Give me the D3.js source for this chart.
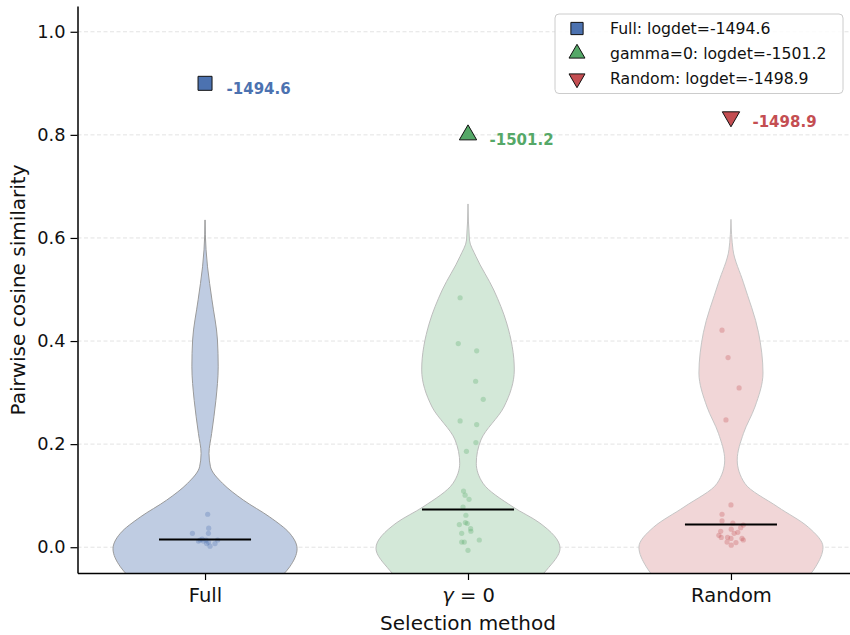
<!DOCTYPE html>
<html>
<head>
  <meta charset="UTF-8">
  <style>
    body { margin: 0; background: #fff; }
    svg { display: block; font-family: "DejaVu Sans", sans-serif; }
  </style>
</head>
<body>
  <script src="https://d3js.org/d3.v7.min.js"></script>
  <script>
    var categories = ["Full", "γ = 0", "Random"];
    var colors = ["#4C72B0", "#55A868", "#C44E52"];
    var fills = ["#bfcce2", "#d3e8d8", "#f1d6d7"];
    var edges = ["#9a9a9a", "#bdbdbd", "#c6c6c6"];
    var yTicks = [0.0, 0.2, 0.4, 0.6, 0.8, 1.0];

    // violin outlines: value, relative half width
    var fullProfileV = [0.635, 0.577, 0.544, 0.480, 0.402, 0.350, 0.285, 0.221, 0.182, 0.156, 0.124, 0.091, 0.059, 0.027, -0.003, -0.038, -0.07];
    var fullProfileW = [0, 0.011, 0.027, 0.075, 0.135, 0.143, 0.118, 0.072, 0.043, 0.059, 0.19, 0.42, 0.70, 0.92, 1.0, 0.92, 0.75];
    var gammaProfileV = [0.666, 0.596, 0.564, 0.499, 0.435, 0.344, 0.272, 0.208, 0.163, 0.124, 0.078, 0.047, -0.002, -0.045, -0.07];
    var gammaProfileW = [0, 0.016, 0.087, 0.28, 0.42, 0.503, 0.39, 0.14, 0.09, 0.163, 0.49, 0.78, 1.0, 0.85, 0.72];
    var randProfileV = [0.636, 0.577, 0.513, 0.416, 0.338, 0.272, 0.221, 0.169, 0.124, 0.078, 0.039, 0.0, -0.038, -0.07];
    var randProfileW = [0, 0.022, 0.136, 0.30, 0.348, 0.26, 0.136, 0.068, 0.15, 0.51, 0.84, 1.0, 0.92, 0.78];

    // strip points: value and horizontal jitter
    var fullPtsV = [0.064, 0.037, 0.027, 0.027, 0.014, 0.012, 0.014, 0.010, 0.007, 0.002, 0.007, 0.014, 0.012, 0.016];
    var fullPtsJ = [0.010, 0.014, 0.013, -0.048, -0.019, -0.006, 0.004, 0.013, 0.006, 0.019, 0.038, 0.048, -0.025, -0.011];
    var gammaPtsV = [0.484, 0.395, 0.381, 0.322, 0.287, 0.245, 0.238, 0.203, 0.186, 0.109, 0.101, 0.093, 0.078, 0.062, 0.048, 0.046, 0.044, 0.036, 0.031, 0.027, 0.014, 0.010, 0.010, -0.006];
    var gammaPtsJ = [-0.030, -0.037, 0.033, 0.029, 0.058, -0.030, 0.033, 0.030, -0.006, -0.017, -0.011, 0.004, -0.019, -0.008, -0.010, -0.003, -0.033, 0.010, 0.011, -0.024, 0.043, -0.024, -0.014, 0.0];
    var randPtsV = [0.421, 0.368, 0.309, 0.247, 0.082, 0.064, 0.051, 0.047, 0.043, 0.038, 0.035, 0.031, 0.029, 0.027, 0.023, 0.019, 0.019, 0.017, 0.017, 0.014, 0.010, 0.009, 0.004];
    var randPtsJ = [-0.034, -0.011, 0.031, -0.019, 0.0, -0.034, -0.034, 0.007, 0.047, 0.037, 0.001, -0.039, 0.026, 0.012, -0.046, -0.037, -0.013, 0.0, 0.042, 0.047, -0.015, 0.019, 0.001];

    var medians = [0.015, 0.073, 0.044];
    var markerVals = [0.9, 0.8, 0.835];
    var logdets = ["-1494.6", "-1501.2", "-1498.9"];
    var legendLabels = ["Full: logdet=-1494.6", "gamma=0: logdet=-1501.2", "Random: logdet=-1498.9"];
    var markerShapes = [d3.symbolSquare, d3.symbolTriangle, d3.symbolTriangle];

    var profiles = [
      d3.zip(fullProfileV, fullProfileW),
      d3.zip(gammaProfileV, gammaProfileW),
      d3.zip(randProfileV, randProfileW)
    ];
    var points = [
      d3.zip(fullPtsV, fullPtsJ),
      d3.zip(gammaPtsV, gammaPtsJ),
      d3.zip(randPtsV, randPtsJ)
    ];

    var W = 850, H = 635;
    var plotL = 77.5, plotR = 858.5, plotT = 6, plotB = 573;

    var x = d3.scaleLinear().domain([-0.485, 2.485]).range([plotL, plotR]);
    var y = d3.scaleLinear().domain([-0.05, 1.05]).range([plotB, plotT]);
    var halfW = x(0.35) - x(0);

    var svg = d3.select("body").append("svg").attr("width", W).attr("height", H);

    svg.append("clipPath").attr("id", "plot")
      .append("rect").attr("x", plotL).attr("y", plotT)
      .attr("width", plotR - plotL).attr("height", plotB - plotT);

    // grid
    svg.append("g").selectAll("line").data(yTicks).join("line")
      .attr("x1", plotL).attr("x2", plotR)
      .attr("y1", function(d) { return y(d); }).attr("y2", function(d) { return y(d); })
      .attr("stroke", "#dcdcdc").attr("stroke-width", 0.8)
      .attr("stroke-dasharray", "4,2.5");

    var plot = svg.append("g").attr("clip-path", "url(#plot)");

    profiles.forEach(function(prof, i) {
      var area = d3.area()
        .curve(d3.curveMonotoneY)
        .y(function(d) { return y(d[0]); })
        .x0(function(d) { return x(i) - d[1] * halfW; })
        .x1(function(d) { return x(i) + d[1] * halfW; });
      plot.append("path").datum(prof)
        .attr("d", area)
        .attr("fill", fills[i])
        .attr("stroke", edges[i])
        .attr("stroke-width", 1);
    });

    points.forEach(function(pts, i) {
      plot.append("g").selectAll("circle").data(pts).join("circle")
        .attr("cx", function(d) { return x(i + d[1]); })
        .attr("cy", function(d) { return y(d[0]); })
        .attr("r", 2.6)
        .attr("fill", colors[i])
        .attr("fill-opacity", 0.3);
    });

    // medians
    plot.append("g").selectAll("line").data(medians).join("line")
      .attr("x1", function(d, i) { return x(i - 0.175); })
      .attr("x2", function(d, i) { return x(i + 0.175); })
      .attr("y1", function(d) { return y(d); })
      .attr("y2", function(d) { return y(d); })
      .attr("stroke", "#000").attr("stroke-width", 2);

    // logdet markers
    markerVals.forEach(function(v, i) {
      var sz = i === 0 ? 196 : 130;
      var rot = i === 2 ? 180 : 0;
      svg.append("path")
        .attr("d", d3.symbol().type(markerShapes[i]).size(sz))
        .attr("transform", "translate(" + x(i) + "," + y(v) + ") rotate(" + rot + ")")
        .attr("fill", colors[i]).attr("stroke", "#111").attr("stroke-width", 1);
      svg.append("text")
        .attr("x", x(i) + 21.5).attr("y", y(v) + 5)
        .attr("dy", "0.35em")
        .attr("font-size", "15px").attr("font-weight", "bold")
        .attr("fill", colors[i])
        .text(logdets[i]);
    });

    // axes
    var yAxis = svg.append("g").attr("transform", "translate(" + plotL + ",0)")
      .call(d3.axisLeft(y).tickValues(yTicks).tickFormat(d3.format(".1f")).tickSize(7).tickSizeOuter(0).tickPadding(5));
    yAxis.selectAll("text").attr("font-size", "17.8px").attr("font-family", "DejaVu Sans").attr("fill", "#111");

    var xAxis = svg.append("g").attr("transform", "translate(0," + plotB + ")")
      .call(d3.axisBottom(x).tickValues([0, 1, 2]).tickFormat(function(d) { return categories[d]; }).tickSize(7).tickSizeOuter(0).tickPadding(8));
    xAxis.selectAll("text").attr("font-size", "19.5px").attr("font-family", "DejaVu Sans").attr("fill", "#111");
    xAxis.selectAll(".tick text").filter(function(d) { return d === 1; })
      .text(null)
      .call(function(t) {
        t.append("tspan").attr("font-style", "italic").text("γ");
        t.append("tspan").text(" = 0");
      });

    svg.selectAll(".domain").attr("stroke", "#000").attr("stroke-width", 1.5);
    svg.selectAll(".tick line").attr("stroke", "#000").attr("stroke-width", 1.2);

    svg.append("text")
      .attr("transform", "translate(25,290) rotate(-90)")
      .attr("text-anchor", "middle")
      .attr("font-size", "20px").attr("fill", "#111")
      .text("Pairwise cosine similarity");

    svg.append("text")
      .attr("x", x(1)).attr("y", 630)
      .attr("text-anchor", "middle")
      .attr("font-size", "20px").attr("fill", "#111")
      .text("Selection method");

    // legend
    var lg = svg.append("g");
    lg.append("rect")
      .attr("x", 555).attr("y", 14).attr("width", 288).attr("height", 79.5)
      .attr("rx", 4)
      .attr("fill", "#fff").attr("fill-opacity", 0.85)
      .attr("stroke", "#cccccc").attr("stroke-width", 1);
    legendLabels.forEach(function(lab, i) {
      var ly = 28.5 + i * 25;
      var sz = i === 0 ? 150 : 110;
      var rot = i === 2 ? 180 : 0;
      lg.append("path")
        .attr("d", d3.symbol().type(markerShapes[i]).size(sz))
        .attr("transform", "translate(577," + ly + ") rotate(" + rot + ")")
        .attr("fill", colors[i]).attr("stroke", "#111").attr("stroke-width", 1);
      lg.append("text")
        .attr("x", 610).attr("y", ly).attr("dy", "0.35em")
        .attr("font-size", "15.7px").attr("fill", "#111")
        .text(lab);
    });
  </script>
</body>
</html>
